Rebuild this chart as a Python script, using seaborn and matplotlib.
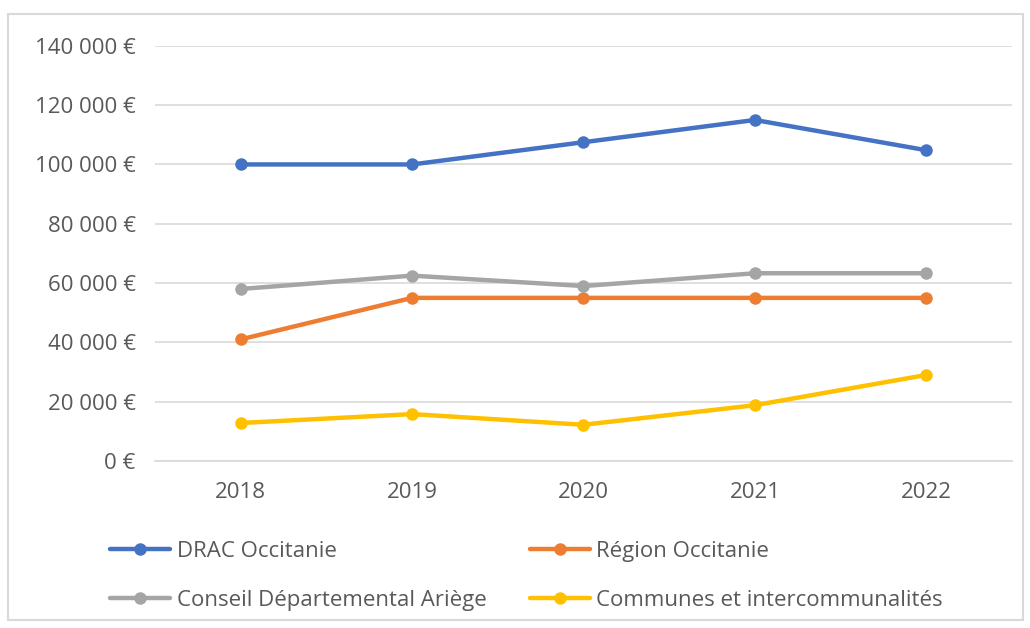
import pandas as pd
import matplotlib.pyplot as plt
import seaborn as sns
from matplotlib.ticker import FuncFormatter, FixedLocator
from matplotlib.patches import Rectangle

# Data
years = [2018, 2019, 2020, 2021, 2022]
drac = [100000, 100000, 107500, 115000, 104800]
region = [41000, 55000, 55000, 55000, 55000]
conseil = [58000, 62500, 59000, 63300, 63300]
communes = [12800, 15800, 12200, 18800, 29000]

series_names = ["DRAC Occitanie", "Région Occitanie",
                "Conseil Départemental Ariège", "Communes et intercommunalités"]
colors = ["#4472C4", "#ED7D31", "#A5A5A5", "#FFC000"]

df = pd.DataFrame({
    "Année": years * 4,
    "Montant": drac + region + conseil + communes,
    "Financeur": [n for n in series_names for _ in years],
})

sns.set_theme(style="white")
plt.rcParams['font.family'] = ['Open Sans', 'DejaVu Sans']
text_color = "#595959"
fs = 16

fig = plt.figure(figsize=(10.3, 6.28), dpi=100)
ax = fig.add_axes([0.1505, 0.266, 0.832, 0.661])

sns.lineplot(data=df, x="Année", y="Montant", hue="Financeur",
             hue_order=series_names, palette=colors, marker="o",
             markersize=9, markeredgewidth=0, linewidth=3.2, ax=ax)

ax.set_xlim(2017.5, 2022.5)
ax.set_ylim(0, 140000)
ax.set_yticks(range(0, 140001, 20000))
ax.yaxis.set_major_formatter(FuncFormatter(lambda v, p: f"{int(v):,}".replace(",", " ") + " €"))
ax.set_xticks(years)
ax.set_xticklabels([str(y) for y in years])
ax.xaxis.set_minor_locator(FixedLocator([2017.5 + i for i in range(6)]))

ax.grid(axis="y", color="#D9D9D9", linewidth=1.2)
ax.set_axisbelow(True)
for s in ["top", "right", "left"]:
    ax.spines[s].set_visible(False)
ax.spines["bottom"].set_color("#D9D9D9")
ax.spines["bottom"].set_linewidth(1.2)

ax.tick_params(axis="x", which="major", length=0, pad=15, labelsize=fs, labelcolor=text_color)
ax.tick_params(axis="x", which="minor", length=8, width=1.2, color="#D9D9D9", direction="out")
ax.tick_params(axis="y", length=0, pad=14, labelsize=fs, labelcolor=text_color)
ax.set_xlabel("")
ax.set_ylabel("")

# legend filled row by row like the original: reorder for column-wise filling
handles, labels = ax.get_legend_handles_labels()
order = [0, 2, 1, 3]
ax.legend([handles[i] for i in order], [labels[i] for i in order],
          loc="upper left", bbox_to_anchor=(-0.0525, -0.193),
          ncol=2, frameon=False, fontsize=fs, labelcolor=text_color,
          handlelength=2.7, handletextpad=0.3, columnspacing=1.95,
          labelspacing=1.25, borderpad=0, borderaxespad=0)

# Light frame around the chart area
fig.patches.append(Rectangle((0.008, 0.012), 0.985, 0.965, transform=fig.transFigure,
                             fill=False, edgecolor="#D9D9D9", linewidth=1.5))

fig.savefig("out.png", dpi=100)
plt.close(fig)
